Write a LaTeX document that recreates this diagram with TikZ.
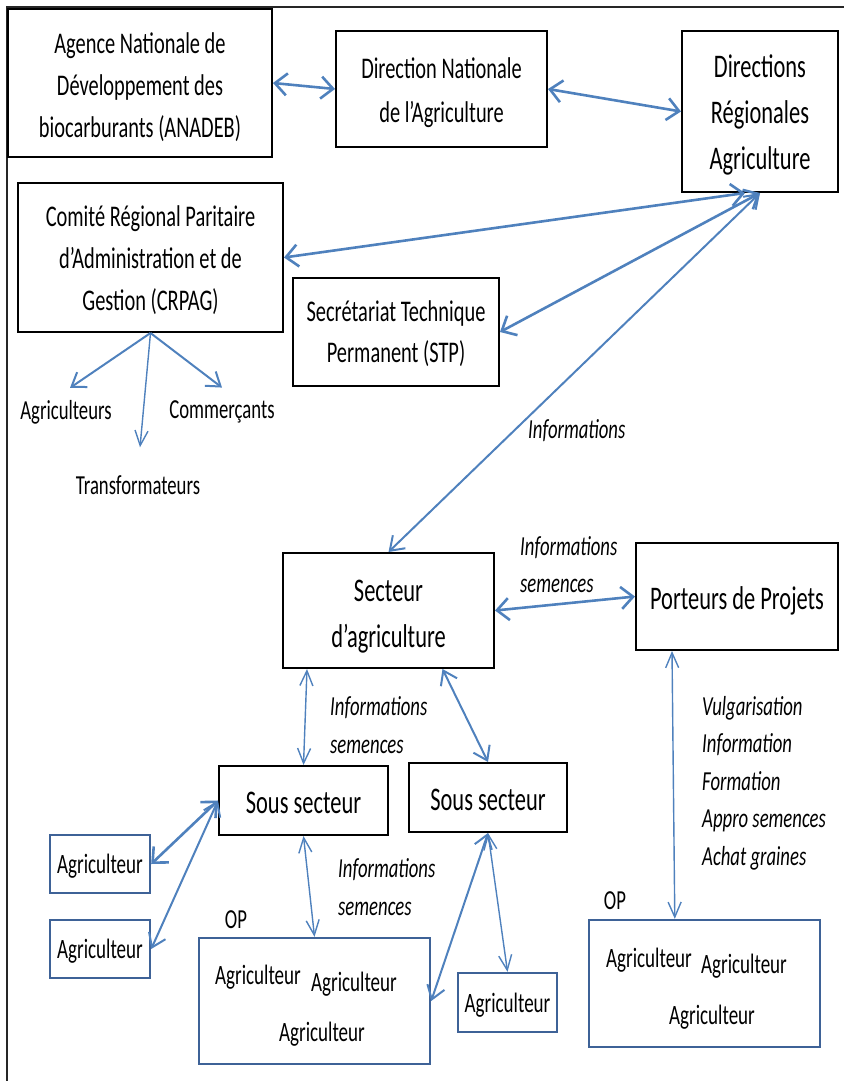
\documentclass[tikz,border=0pt]{standalone}
\usepackage{fontspec}
\setmainfont[FakeStretch=0.68]{Carlito}
\usetikzlibrary{arrows.meta,calc}
\definecolor{arrowblue}{HTML}{4F81BD}
\definecolor{boxblue}{HTML}{3E6297}
\begin{document}
\begin{tikzpicture}[x=1pt,y=-1pt,
  box/.style={draw=black,line width=2pt,inner sep=0pt},
  bbox/.style={draw=boxblue,line width=2.4pt,align=center,inner sep=0pt},
  big/.style={font=\fontsize{33}{46}\selectfont,align=center,inner sep=0pt},
  med/.style={font=\fontsize{30}{42}\selectfont,align=center,inner sep=0pt},
  sml/.style={font=\fontsize{28}{34}\selectfont,text depth=0pt},
  plain/.style={font=\fontsize{27.5}{34}\selectfont,inner sep=0pt},
  lab/.style={font=\fontsize{27.5}{37.5}\selectfont\itshape,align=left,anchor=west,inner sep=0pt},
  arrw/.style={draw=arrowblue,line width=2.6pt,{Straight Barb[length=12pt,width=22pt]}-{Straight Barb[length=12pt,width=22pt]}},
  arrm/.style={draw=arrowblue,line width=2pt,{Straight Barb[length=13pt,width=18pt]}-{Straight Barb[length=13pt,width=18pt]}},
  arrt/.style={draw=arrowblue,line width=1.4pt,{Straight Barb[length=15pt,width=13pt]}-{Straight Barb[length=15pt,width=13pt]}},
  onem/.style={draw=arrowblue,line width=2pt,-{Straight Barb[length=13pt,width=18pt]}},
  onet/.style={draw=arrowblue,line width=1.4pt,-{Straight Barb[length=15pt,width=13pt]}}
]
\useasboundingbox (0,0) rectangle (844,1081);
% frame
\draw[line width=1.8pt,black!85] (7,1081) -- (7,7) -- (844,7);

% boxes
\node[box,minimum width=264,minimum height=148] (anadeb) at (140,83) {};
\node[med] (anadebt) at (140,87.5) {Agence Nationale de\\Développement des\\biocarburants (ANADEB)};
\node[box,minimum width=211,minimum height=116] (dn) at (441.5,89) {};
\node[med,font=\fontsize{30}{44}\selectfont] (dnt) at (441.5,92.5) {Direction Nationale\\de l’Agriculture};
\node[box,minimum width=156,minimum height=161] (dr) at (760,111.5) {};
\node[big] (drt) at (760,115) {Directions\\Régionales\\Agriculture};
\node[box,minimum width=265,minimum height=149] (crpag) at (150.5,257.5) {};
\node[med] (crpagt) at (150.5,260.5) {Comité Régional Paritaire\\d’Administration et de\\Gestion (CRPAG)};
\node[box,minimum width=206,minimum height=108] (stp) at (396,332) {};
\node[med,font=\fontsize{30}{41}\selectfont] (stpt) at (396,333.5) {Secrétariat Technique\\Permanent (STP)};
\node[box,minimum width=211,minimum height=115] (secteur) at (388.5,610.5) {};
\node[big] (secteurt) at (388.5,616.5) {Secteur\\d’agriculture};
\node[box,minimum width=202,minimum height=107] (porteurs) at (737,596.5) {};
\node[big] (porteurst) at (737,600.5) {Porteurs de Projets};
\node[box,minimum width=169,minimum height=69] (ss1) at (303.5,800.5) {};
\node[big] (ss1t) at (303.5,802.5) {Sous secteur};
\node[box,minimum width=158,minimum height=69] (ss2) at (488,797.5) {};
\node[big] (ss2t) at (488,799.5) {Sous secteur};

\node[bbox,sml,minimum width=100,minimum height=58] (a1) at (100,864) {Agriculteur};
\node[bbox,sml,minimum width=100,minimum height=58] (a2) at (100,949) {Agriculteur};
\node[bbox,sml,minimum width=99,minimum height=59] (a3) at (507.5,1002.5) {Agriculteur};
\node[bbox,minimum width=231,minimum height=126] (op1) at (314.5,1001) {};
\node[bbox,minimum width=231,minimum height=127] (op2) at (704.5,983.5) {};

% texts inside OP boxes
\node[plain,font=\fontsize{28}{34}\selectfont] (op1a) at (258,977) {Agriculteur};
\node[plain,font=\fontsize{28}{34}\selectfont] (op1b) at (354,984) {Agriculteur};
\node[plain,font=\fontsize{28}{34}\selectfont] (op1c) at (322,1034) {Agriculteur};
\node[plain] (op1l) at (236,920) {OP};
\node[plain,font=\fontsize{28}{34}\selectfont] (op2a) at (649,960) {Agriculteur};
\node[plain,font=\fontsize{28}{34}\selectfont] (op2b) at (744,966) {Agriculteur};
\node[plain,font=\fontsize{28}{34}\selectfont] (op2c) at (712,1017) {Agriculteur};
\node[plain] (op2l) at (615,901) {OP};

% CRPAG children
\node[plain] (agrs) at (66,412) {Agriculteurs};
\node[plain] (comm) at (222,412) {Commerçants};
\node[plain] (trans) at (138,485) {Transformateurs};

% labels
\node[lab] (l1) at (528,431) {Informations};
\node[lab] (l2) at (520,564.5) {Informations\\semences};
\node[lab] (l3) at (330,725) {Informations\\semences};
\node[lab] (l4) at (338,887) {Informations\\semences};
\node[lab] (l5) at (702,783) {Vulgarisation\\Information\\Formation\\Appro semences\\Achat graines};

% connectors
\draw[arrw] (anadeb.east) -- (dn.west);
\draw[arrw] (dn.east) -- (dr.west);
\draw[arrw] ($(dr.south)+(-15,0)$) -- (crpag.east);
\draw[arrw] (dr.south) -- (stp.east);
\draw[arrm] (dr.south) -- (secteur.north);
\draw[onem] (crpag.south) -- ($(agrs.north)+(4,-12)$);
\draw[onet] (crpag.south) -- ($(trans.north)+(2,-28)$);
\draw[onem] (crpag.south) -- ($(comm.north)+(0,-13)$);
\draw[arrw] (secteur.east) -- (porteurs.west);
\draw[arrt] ($(secteur.south west)+(25,0)$) -- (ss1.north);
\draw[arrm] ($(secteur.south)+(54,0)$) -- (ss2.north);
\draw[arrt] ($(porteurs.south west)+(37,0)$) -- ($(op2.north west)+(87,0)$);
\draw[arrw] (ss1.west) -- (a1.east);
\draw[arrm] (ss1.west) -- (a2.east);
\draw[arrt] (ss1.south) -- (op1.north);
\draw[arrm] (ss2.south) -- (op1.east);
\draw[arrt] (ss2.south) -- (a3.north);
\end{tikzpicture}
\end{document}
